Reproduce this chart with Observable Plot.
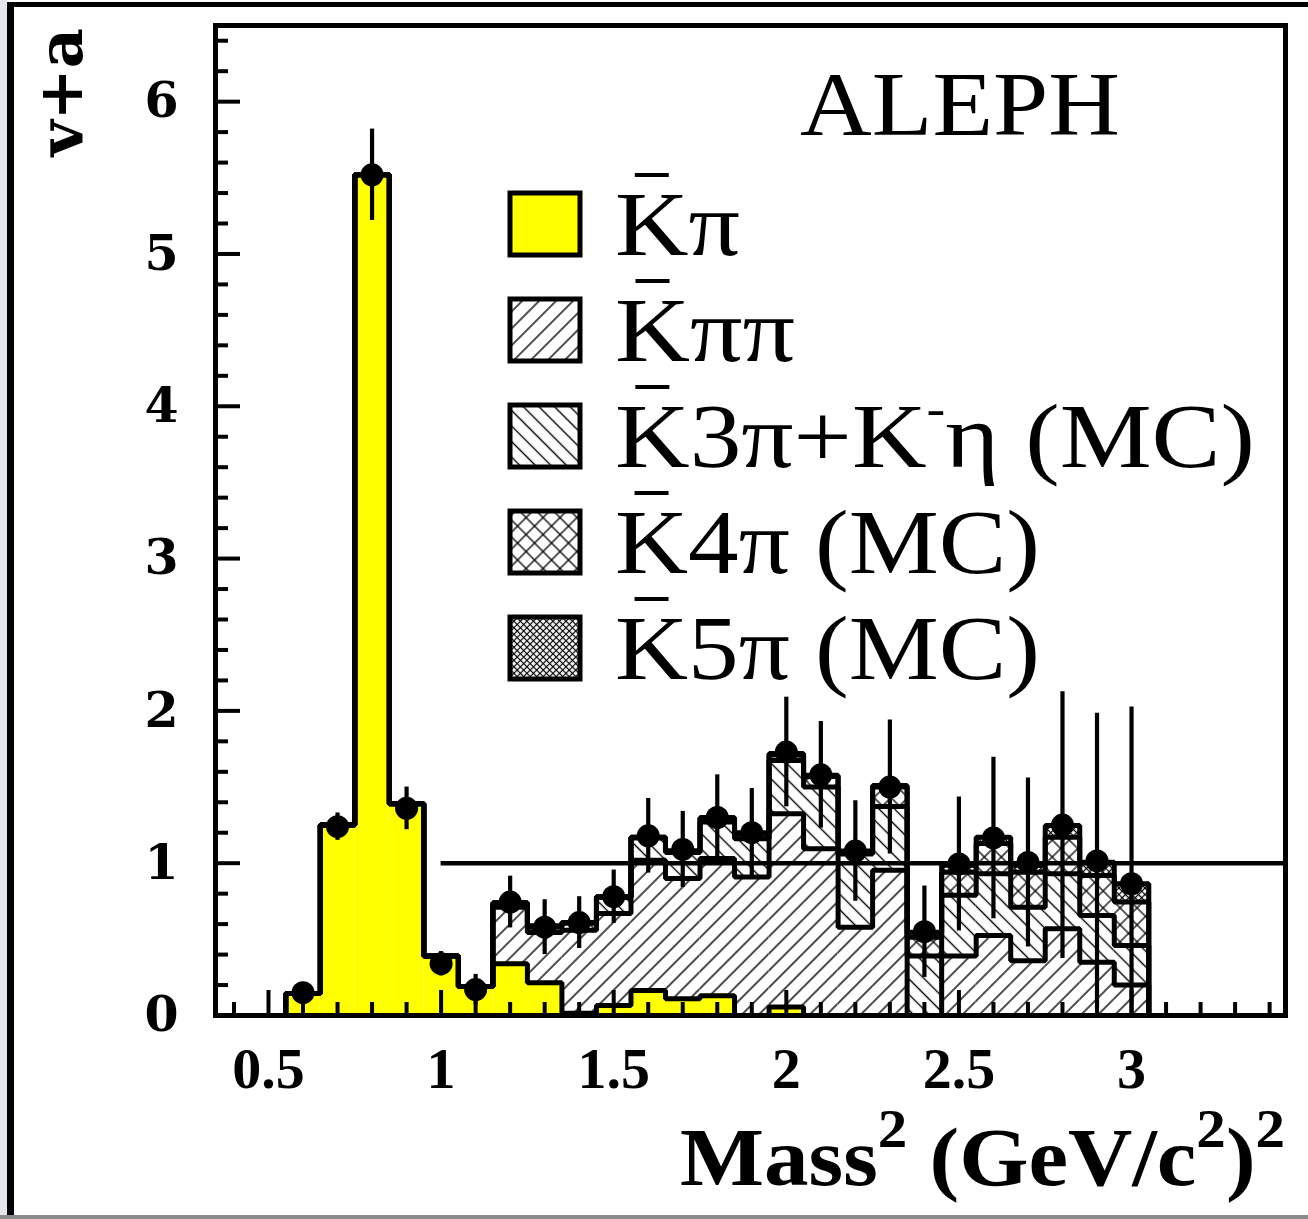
<!DOCTYPE html>
<html>
<head>
<meta charset="utf-8">
<script src="https://cdn.jsdelivr.net/npm/d3@7"></script>
<script src="https://cdn.jsdelivr.net/npm/@observablehq/plot@0.6"></script>
<style>
  html, body { margin: 0; padding: 0; background: #fff; }
  #chart { width: 1308px; height: 1219px; }
  #chart svg { display: block; }
</style>
</head>
<body>
<div id="chart"></div>
<script>
// Mass^2 bin centres (GeV/c^2)^2, bins are 0.1 wide
const massBins = [0.6, 0.7, 0.8, 0.9, 1.0, 1.1, 1.2, 1.3, 1.4, 1.5, 1.6, 1.7, 1.8, 1.9, 2.0,
                  2.1, 2.2, 2.3, 2.4, 2.5, 2.6, 2.7, 2.8, 2.9, 3.0];
const binWidth = 0.1;

// Stacked contributions to v+a, per channel
const kPi     = [0.145, 1.25, 5.52, 1.39, 0.39, 0.19, 0.34, 0.215, 0.015, 0.066, 0.164, 0.11, 0.13, 0, 0.055,
                 0, 0, 0, 0, 0, 0, 0, 0, 0, 0];
const kPiPi   = [0, 0, 0, 0, 0, 0, 0.37, 0.33, 0.545, 0.604, 0.856, 0.79, 0.90, 0.91, 1.27,
                 1.095, 0.58, 0.953, 0, 0.39, 0.526, 0.36, 0.57, 0.35, 0.2];
const k3PiEta = [0, 0, 0, 0, 0, 0, 0.025, 0.035, 0.045, 0.105, 0.145, 0.17, 0.24, 0.25, 0.35,
                 0.405, 0.48, 0.42, 0.39, 0.40, 0.404, 0.35, 0.36, 0.307, 0.26];
const k4Pi    = [0, 0, 0, 0, 0, 0, 0.005, 0.005, 0.005, 0.005, 0.005, 0.01, 0.025, 0.03, 0.035,
                 0.07, 0.015, 0.127, 0.124, 0.15, 0.20, 0.23, 0.24, 0.263, 0.285];
const k5Pi    = [0, 0, 0, 0, 0, 0, 0, 0.005, 0, 0, 0, 0, 0.005, 0.01, 0.01,
                 0.007, 0.005, 0.01, 0.033, 0.046, 0.04, 0.046, 0.078, 0.087, 0.12];

// Measured spectral function with errors
const dataVal = [0.15, 1.24, 5.52, 1.36, 0.34, 0.17, 0.745, 0.58, 0.61, 0.78, 1.18, 1.09, 1.30, 1.20, 1.73,
                 1.58, 1.08, 1.50, 0.55, 0.995, 1.166, 1.005, 1.25, 1.015, 0.865];
const dataErr = [0.03, 0.09, 0.30, 0.14, 0.08, 0.10, 0.17, 0.18, 0.17, 0.175, 0.245, 0.25, 0.28, 0.29, 0.36,
                 0.35, 0.33, 0.44, 0.30, 0.44, 0.53, 0.555, 0.875, 0.97, 1.16];

// Axis ticks
const xMajorTicks = [0.5, 1, 1.5, 2, 2.5, 3];
const xMinorTicks = [0.4, 0.6, 0.7, 0.8, 0.9, 1.1, 1.2, 1.3, 1.4, 1.6, 1.7, 1.8, 1.9, 2.1, 2.2, 2.3, 2.4,
                     2.6, 2.7, 2.8, 2.9, 3.1, 3.2, 3.3, 3.4];
const yMajorTicks = [0, 1, 2, 3, 4, 5, 6];
const yMinorTicks = [0.2, 0.4, 0.6, 0.8, 1.2, 1.4, 1.6, 1.8, 2.2, 2.4, 2.6, 2.8, 3.2, 3.4, 3.6, 3.8,
                     4.2, 4.4, 4.6, 4.8, 5.2, 5.4, 5.6, 5.8, 6.2, 6.4];
const unityLevel = 1;

// Legend entries (first K carries an overbar)
const legendLabels = [
  [{t: "Kπ"}],
  [{t: "Kππ"}],
  [{t: "K3π+K"}, {t: "-", sup: true}, {t: "η (MC)"}],
  [{t: "K4π (MC)"}],
  [{t: "K5π (MC)"}]
];
const legendTextWidths = [125, 180, 640, 425, 425];

const channels = [kPi, kPiPi, k3PiEta, k4Pi, k5Pi];
const fills = ["#ffff00", "url(#hatchFwd)", "url(#hatchBack)", "url(#crossWide)", "url(#crossFine)"];

// Stacked rectangles per channel and cumulative contours per level
const layers = channels.map(() => []);
const contours = [];
massBins.forEach((c, i) => {
  let base = 0;
  channels.forEach((vals, k) => {
    const top = base + vals[i];
    layers[k].push({x1: c - binWidth / 2, x2: c + binWidth / 2, y1: base, y2: top});
    base = top;
  });
});
channels.forEach((_, k) => {
  const pts = [{level: k, x: massBins[0] - binWidth / 2, y: 0}];
  massBins.forEach((c, i) => {
    let cum = 0;
    for (let j = 0; j <= k; ++j) cum += channels[j][i];
    pts.push({level: k, x: c - binWidth / 2, y: cum}, {level: k, x: c + binWidth / 2, y: cum});
  });
  pts.push({level: k, x: massBins[massBins.length - 1] + binWidth / 2, y: 0});
  contours.push(...pts);
});
const points = massBins.map((c, i) => ({
  x: c, y: dataVal[i], lo: Math.max(0, dataVal[i] - dataErr[i]), hi: dataVal[i] + dataErr[i]
}));

const W = 1308, H = 1219;
const mL = 215, mR = 23, mT = 25, mB = 204;
const plotW = W - mL - mR, plotH = H - mT - mB;

const chart = Plot.plot({
  width: W,
  height: H,
  marginLeft: mL,
  marginRight: mR,
  marginTop: mT,
  marginBottom: mB,
  style: {background: "transparent", overflow: "visible"},
  x: {domain: [0.3465, 3.446]},
  y: {domain: [0, 6.5]},
  marks: [
    ...layers.map((rows, k) =>
      Plot.rect(rows, {x1: "x1", x2: "x2", y1: "y1", y2: "y2", fill: fills[k]})
    ),
    Plot.line(contours, {x: "x", y: "y", z: "level", stroke: "black", strokeWidth: 5,
                         strokeLinejoin: "miter", strokeLinecap: "square"}),
    Plot.ruleY([unityLevel], {x1: 1, x2: 3.446, stroke: "black", strokeWidth: 4.5}),
    Plot.ruleX(points, {x: "x", y1: "lo", y2: "hi", stroke: "black", strokeWidth: 4.2}),
    Plot.dot(points, {x: "x", y: "y", r: 11.5, fill: "black"}),
    // inward ticks
    Plot.tickX(xMinorTicks, {x: d => d, stroke: "black", strokeWidth: 4, insetTop: plotH - 13}),
    Plot.tickX(xMajorTicks, {x: d => d, stroke: "black", strokeWidth: 4, insetTop: plotH - 25}),
    Plot.tickY(yMinorTicks, {y: d => d, stroke: "black", strokeWidth: 4, insetRight: plotW - 13}),
    Plot.tickY(yMajorTicks, {y: d => d, stroke: "black", strokeWidth: 4, insetRight: plotW - 25}),
    Plot.frame({stroke: "black", strokeWidth: 5}),
    Plot.axisX(xMajorTicks, {tickSize: 0, tickPadding: 31, label: null, fontSize: 58,
                             fontWeight: "bold", fontFamily: "Liberation Serif",
                             tickFormat: d => String(d)}),
    Plot.axisY(yMajorTicks, {tickSize: 0, tickPadding: 37, label: null, fontSize: 49,
                             fontWeight: "bold", fontFamily: "DejaVu Serif",
                             tickFormat: d => String(d)})
  ]
});

document.getElementById("chart").appendChild(chart);

const svg = d3.select(chart);

// Fill patterns (opaque white background, black hatching)
const defs = svg.insert("defs", ":first-child");
function hatch(id, size, angle, width, cross) {
  const p = defs.append("pattern").attr("id", id).attr("patternUnits", "userSpaceOnUse")
    .attr("width", size).attr("height", size).attr("patternTransform", `rotate(${angle})`);
  p.append("rect").attr("width", size).attr("height", size).attr("fill", "white");
  p.append("line").attr("x1", size / 2).attr("x2", size / 2).attr("y1", -1).attr("y2", size + 1)
    .attr("stroke", "black").attr("stroke-width", width);
  if (cross) p.append("line").attr("y1", size / 2).attr("y2", size / 2).attr("x1", -1).attr("x2", size + 1)
    .attr("stroke", "black").attr("stroke-width", width);
}
hatch("hatchFwd", 12, 45, 1.4, false);
hatch("hatchBack", 11, -45, 1.4, false);
hatch("crossWide", 12, 45, 1.3, true);
hatch("crossFine", 4.6, 45, 1.2, true);

// Page border
const border = svg.insert("g", "defs + *");
border.append("rect").attr("x", 0).attr("y", 0).attr("width", 7).attr("height", H).attr("fill", "#e4e6e9");
border.append("rect").attr("x", 7).attr("y", 2).attr("width", W - 7).attr("height", 5).attr("fill", "black");
border.append("rect").attr("x", 7).attr("y", 2).attr("width", 7).attr("height", H - 2).attr("fill", "black");
border.append("rect").attr("x", 0).attr("y", H - 4).attr("width", W).attr("height", 4).attr("fill", "#8a8a8a");

// Experiment label
svg.append("text").attr("x", 800).attr("y", 135).attr("text-anchor", "start")
  .attr("font-family", "'Liberation Serif', serif").attr("font-size", 90)
  .attr("textLength", 320).attr("lengthAdjust", "spacingAndGlyphs")
  .text("ALEPH");

// Legend
const lg = svg.append("g").attr("font-family", "'Liberation Serif', serif").attr("font-size", 92)
  .attr("text-anchor", "start");
legendLabels.forEach((segs, i) => {
  const top = 191 + i * 106;
  lg.append("rect").attr("x", 510).attr("y", top + 2).attr("width", 70).attr("height", 62)
    .attr("fill", fills[i]).attr("stroke", "black").attr("stroke-width", 5);
  const base = top + 64;
  const t = lg.append("text").attr("x", 615).attr("y", base)
    .attr("textLength", legendTextWidths[i]).attr("lengthAdjust", "spacingAndGlyphs");
  segs.forEach(s => {
    if (s.sup) t.append("tspan").attr("font-size", 50).attr("dy", -42).text(s.t);
    else {
      const ts = t.append("tspan").text(s.t);
      if (t.selectAll("tspan").size() > 1) ts.attr("dy", 42);
    }
  });
  const kw = t.node().getSubStringLength(0, 1);
  lg.append("line").attr("x1", 615 + kw / 2 - 17).attr("x2", 615 + kw / 2 + 17)
    .attr("y1", base - 80).attr("y2", base - 80).attr("stroke", "black").attr("stroke-width", 4);
});

// Axis titles
const xt = svg.append("text").attr("x", 680).attr("y", 1185).attr("text-anchor", "start")
  .attr("textLength", 605).attr("lengthAdjust", "spacingAndGlyphs")
  .attr("font-family", "'Liberation Serif', serif").attr("font-size", 83).attr("font-weight", "bold");
xt.append("tspan").text("Mass");
xt.append("tspan").attr("font-size", 55).attr("dy", -38).text("2");
xt.append("tspan").attr("dy", 38).text(" (GeV/c");
xt.append("tspan").attr("font-size", 55).attr("dy", -38).text("2");
xt.append("tspan").attr("dy", 38).text(")");
xt.append("tspan").attr("font-size", 55).attr("dy", -38).text("2");

svg.append("text").attr("transform", "translate(82,28) rotate(-90)")
  .attr("text-anchor", "end")
  .attr("font-family", "'DejaVu Serif', serif").attr("font-size", 62).attr("font-weight", "bold")
  .text("v+a");
</script>
</body>
</html>
